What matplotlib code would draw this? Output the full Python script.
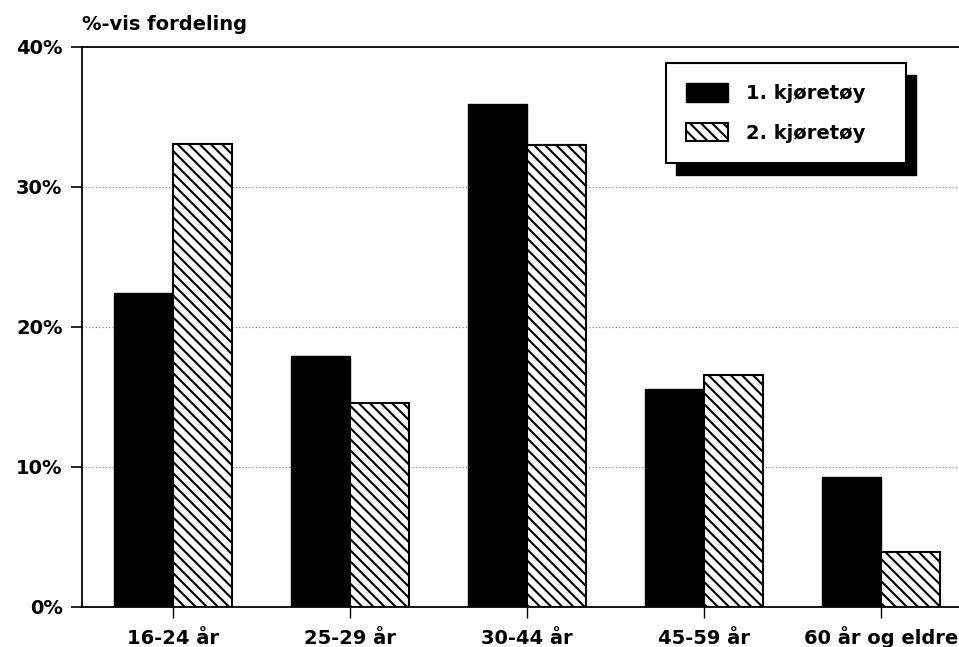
import numpy as np
import matplotlib
matplotlib.use("Agg")
import matplotlib.pyplot as plt
from matplotlib.patches import Rectangle

# Data
kategorier = ["16-24 år", "25-29 år", "30-44 år", "45-59 år", "60 år og eldre"]
kjoretoy_1 = [22.4, 17.9, 35.9, 15.6, 9.3]
kjoretoy_2 = [33.1, 14.6, 33.0, 16.6, 3.9]
y_ticks = [0, 10, 20, 30, 40]
y_ticklabels = ["0%", "10%", "20%", "30%", "40%"]

plt.rcParams['font.family'] = 'DejaVu Sans'
plt.rcParams['font.weight'] = 'bold'
plt.rcParams['hatch.linewidth'] = 1.5

fig = plt.figure(figsize=(9.59, 6.47), dpi=100)
ax = fig.add_axes([82/959, 40/647, 1 - 82/959, 560/647])

x = np.arange(len(kategorier))
w = 0.333
ax.bar(x - w/2, kjoretoy_1, width=w, color="black", edgecolor="black",
       linewidth=1, label="1. kjøretøy", zorder=2)
ax.bar(x + w/2, kjoretoy_2, width=w, color="white", edgecolor="black",
       hatch='\\\\\\', linewidth=1.5, label="2. kjøretøy", zorder=2)

ax.set_xlim(-0.514, 4.44)
ax.set_ylim(0, 40)

ax.set_xticks(x)
ax.set_xticklabels(kategorier, fontsize=14, fontweight='bold', va='baseline')
ax.set_yticks(y_ticks)
ax.set_yticklabels(y_ticklabels, fontsize=14, fontweight='bold')
ax.tick_params(axis='y', direction='out', length=8, width=1.2, pad=6)
ax.tick_params(axis='x', direction='out', length=8, width=1.0, pad=18.5)

# stiplede hjelpelinjer
for yv in [10, 20, 30]:
    ax.axhline(yv, color="gray", linestyle=(0, (1, 2)), linewidth=0.8, zorder=1)

ax.spines['right'].set_visible(False)
for s in ['top', 'left', 'bottom']:
    ax.spines[s].set_linewidth(1.3)
    ax.spines[s].set_color("black")

fig.text(82/959, 1 - 30/647, "%-vis fordeling", fontsize=14, fontweight='bold',
         ha='left', va='baseline')

leg = ax.legend(loc='upper left',
                bbox_to_anchor=(666/959, 1 - 163/647, 240/959, 100/647),
                bbox_transform=fig.transFigure, mode='expand', borderaxespad=0,
                prop={'weight': 'bold', 'size': 14},
                fancybox=False, frameon=True, framealpha=1,
                facecolor="white", edgecolor="black",
                handlelength=2.15, handleheight=1.08, handletextpad=0.93,
                borderpad=1.05, labelspacing=1.0)
leg.get_frame().set_linewidth(1.5)
leg.set_zorder(5)

# skygge bak legenden
fig.canvas.draw()
bb = leg.get_window_extent().transformed(fig.transFigure.inverted())
ox, oy = 10/959, 12/647
skygge = Rectangle((bb.x0 + ox, bb.y0 - oy), bb.width, bb.height,
                   transform=fig.transFigure, facecolor="black",
                   edgecolor="black", clip_on=False, zorder=4.9)
ax.add_patch(skygge)

fig.savefig("out.png", dpi=100)
